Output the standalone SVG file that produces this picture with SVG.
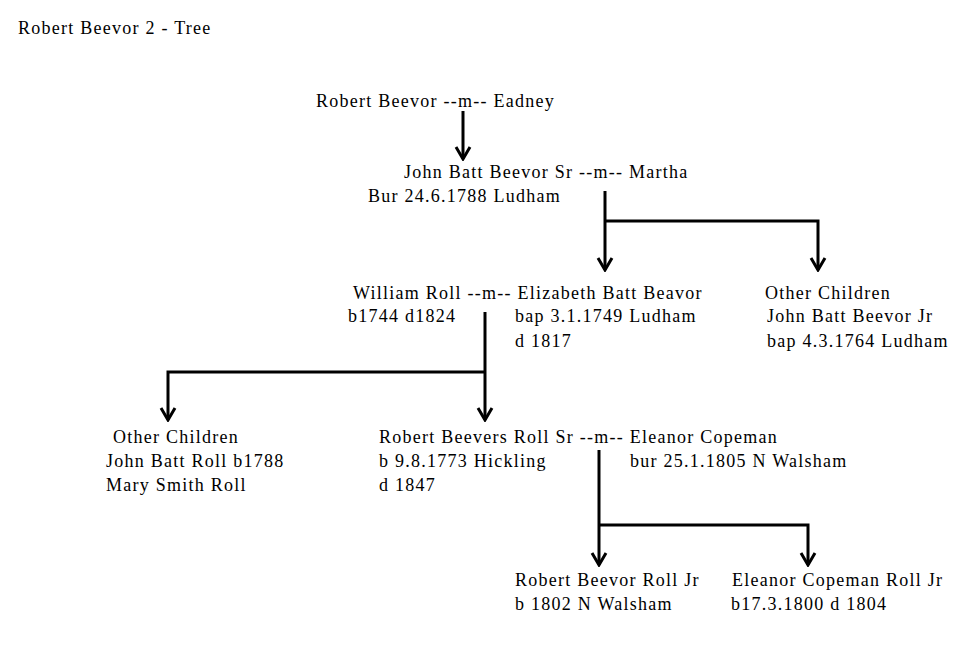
<svg xmlns="http://www.w3.org/2000/svg" width="960" height="648" viewBox="0 0 960 648">
<defs>
<style>
text{font-family:"Liberation Serif","Times New Roman",serif;font-size:18px;letter-spacing:1.25px;fill:#000}
.c{fill:none;stroke:#000;stroke-width:3}
</style>
<marker id="ah" viewBox="-14 -9 16 18" refX="0" refY="0" markerWidth="16" markerHeight="18" markerUnits="userSpaceOnUse" orient="auto">
<path d="M-12,-7 L0,0 L-12,7" fill="none" stroke="#000" stroke-width="3"/>
</marker>
</defs>
<rect width="960" height="648" fill="#fff"/>
<text x="18" y="34">Robert Beevor 2 - Tree</text>
<g id="connectors">
<path class="c" d="M463,111 V159" marker-end="url(#ah)"/>
<path class="c" d="M605,191 V270" marker-end="url(#ah)"/>
<path class="c" d="M605,221 H818 V270" marker-end="url(#ah)"/>
<path class="c" d="M485,312 V420" marker-end="url(#ah)"/>
<path class="c" d="M485,372 H168 V420" marker-end="url(#ah)"/>
<path class="c" d="M599,450 V565" marker-end="url(#ah)"/>
<path class="c" d="M599,525 H808 V565" marker-end="url(#ah)"/>
</g>
<g id="n-robert"><text x="316" y="107">Robert Beevor --m-- Eadney</text></g>
<g id="n-johnsr"><text x="404" y="178">John Batt Beevor Sr --m-- Martha</text><text x="368" y="202">Bur 24.6.1788 Ludham</text></g>
<g id="n-william"><text x="353" y="299">William Roll --m-- Elizabeth Batt Beavor</text><text x="348" y="322">b1744 d1824</text><text x="515" y="322">bap 3.1.1749 Ludham</text><text x="515" y="347">d 1817</text></g>
<g id="n-other1"><text x="765" y="299">Other Children</text><text x="767" y="322">John Batt Beevor Jr</text><text x="767" y="347">bap 4.3.1764 Ludham</text></g>
<g id="n-other2"><text x="113" y="443">Other Children</text><text x="106" y="467">John Batt Roll b1788</text><text x="106" y="491">Mary Smith Roll</text></g>
<g id="n-robertsr"><text x="379" y="443">Robert Beevers Roll Sr --m-- Eleanor Copeman</text><text x="379" y="467">b 9.8.1773 Hickling</text><text x="379" y="491">d 1847</text><text x="630" y="467">bur 25.1.1805 N Walsham</text></g>
<g id="n-robertjr"><text x="515" y="586">Robert Beevor Roll Jr</text><text x="515" y="610">b 1802 N Walsham</text></g>
<g id="n-eleanorjr"><text x="732" y="586">Eleanor Copeman Roll Jr</text><text x="731" y="610">b17.3.1800 d 1804</text></g>
</svg>
